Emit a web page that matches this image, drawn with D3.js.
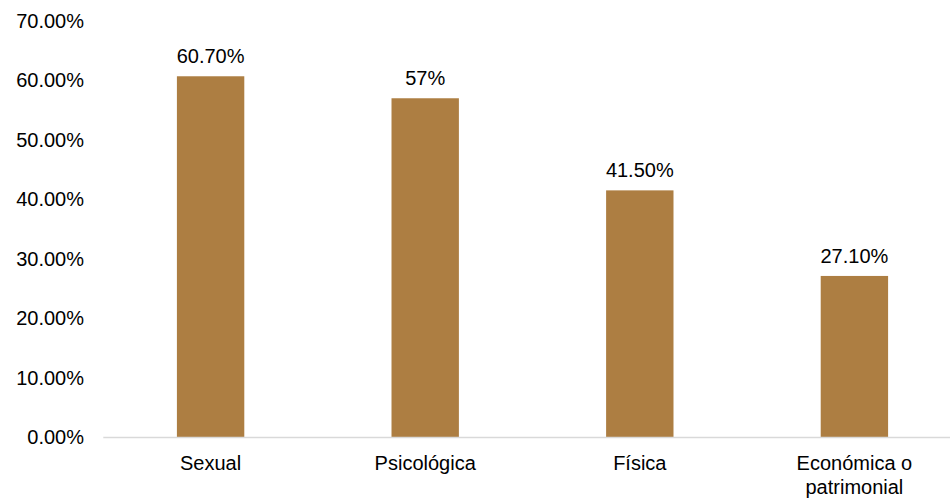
<!DOCTYPE html>
<html>
<head>
<meta charset="utf-8">
<style>
body { margin: 0; background: #fff; }
svg { display: block; }
text { font-family: "Liberation Sans", Arial, sans-serif; font-size: 20px; fill: #000; }
</style>
<script src="https://d3js.org/d3.v7.min.js"></script>
</head>
<body>
<script>
// data
var categories = ["Sexual", "Psicológica", "Física", "Económica o patrimonial"];
var values = [60.7, 57, 41.5, 27.1];
var valueLabels = ["60.70%", "57%", "41.50%", "27.10%"];
var yTicks = [0, 10, 20, 30, 40, 50, 60, 70];

var W = 950, H = 498;
var svg = d3.select("body").append("svg")
    .attr("width", W)
    .attr("height", H);

// plot area runs a bit past the right edge, as in the original
var x = d3.scaleBand()
    .domain(categories)
    .range([103.3, 961.7])
    .paddingInner(0.686)
    .paddingOuter(0.343);

var y = d3.scaleLinear()
    .domain([0, 70])
    .range([437, 21]);

// y tick labels (no axis line, no ticks)
svg.selectAll(".ylab")
    .data(yTicks)
    .enter().append("text")
    .attr("class", "ylab")
    .attr("x", 84)
    .attr("y", d => y(d))
    .attr("dy", "0.35em")
    .attr("text-anchor", "end")
    .text(d => d.toFixed(2) + "%");

// bars
svg.selectAll(".bar")
    .data(values)
    .enter().append("rect")
    .attr("class", "bar")
    .attr("x", (d, i) => x(categories[i]))
    .attr("width", x.bandwidth())
    .attr("y", d => y(d))
    .attr("height", d => y(0) - y(d))
    .attr("fill", "#ad7e42");

// baseline
svg.append("line")
    .attr("x1", 103.3)
    .attr("x2", W)
    .attr("y1", y(0) + 0.5)
    .attr("y2", y(0) + 0.5)
    .attr("stroke", "#d9d9d9")
    .attr("stroke-width", 1.3);

// value labels
svg.selectAll(".vlab")
    .data(values)
    .enter().append("text")
    .attr("class", "vlab")
    .attr("x", (d, i) => x(categories[i]) + x.bandwidth() / 2)
    .attr("y", d => y(d) - 13)
    .attr("text-anchor", "middle")
    .text((d, i) => valueLabels[i]);

// category labels, wrapped like the original
var wrap = { "Económica o patrimonial": ["Económica o", "patrimonial"] };
categories.forEach(function (c) {
  var lines = wrap[c] || [c];
  var t = svg.append("text")
      .attr("x", x(c) + x.bandwidth() / 2)
      .attr("y", 470)
      .attr("text-anchor", "middle");
  lines.forEach(function (l, k) {
    t.append("tspan")
        .attr("x", x(c) + x.bandwidth() / 2)
        .attr("dy", k === 0 ? 0 : 24)
        .text(l);
  });
});
</script>
</body>
</html>
